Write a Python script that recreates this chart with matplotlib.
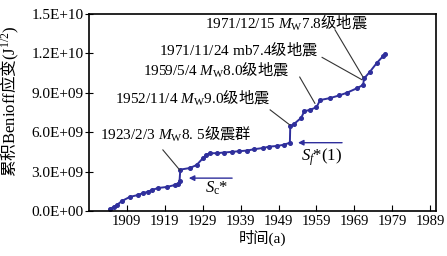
import numpy as np
import matplotlib
matplotlib.use('Agg')
import matplotlib.pyplot as plt

plt.rcParams['font.family'] = ['Liberation Serif', 'Noto Sans CJK SC']
plt.rcParams['mathtext.fontset'] = 'custom'
plt.rcParams['mathtext.rm'] = 'Liberation Serif'
plt.rcParams['mathtext.it'] = 'Liberation Serif:italic'
plt.rcParams['mathtext.sf'] = 'Noto Sans CJK SC'

# data (strain in units of 1e9 J^1/2)
years = [1904.5, 1905.5, 1906.4, 1907.7, 1909.8, 1912.0, 1913.3, 1914.5, 1915.6,
         1917.3, 1919.6, 1921.7, 1922.5, 1922.9, 1923.1, 1925.6, 1927.4, 1929.0,
         1930.0, 1931.0, 1932.8, 1934.5, 1936.7, 1938.5, 1940.7, 1942.5, 1945.0,
         1946.5, 1948.6, 1950.5, 1952.0, 1952.1, 1953.0, 1955.0, 1955.8, 1957.3,
         1959.0, 1960.0, 1962.6, 1965.0, 1967.0, 1969.7, 1971.3, 1971.6, 1973.1,
         1975.0, 1976.6, 1977.2]
strain = [0.15, 0.30, 0.46, 0.76, 1.07, 1.22, 1.37, 1.45, 1.60,
          1.75, 1.83, 1.98, 2.05, 2.30, 3.15, 3.27, 3.50, 4.00,
          4.30, 4.40, 4.40, 4.45, 4.50, 4.55, 4.60, 4.70, 4.80,
          4.90, 4.95, 5.05, 5.20, 6.45, 6.60, 7.10, 7.60, 7.70,
          7.90, 8.45, 8.60, 8.80, 9.00, 9.35, 9.60, 10.10, 10.60,
          11.30, 11.80, 11.95]

xticks = [1909, 1919, 1929, 1939, 1949, 1959, 1969, 1979, 1989]
yticks = [0, 3e9, 6e9, 9e9, 1.2e10, 1.5e10]
ytick_labels = ['0.0E+00', '3.0E+09', '6.0E+09', '9.0E+09', '1.2E+10', '1.5E+10']

# annotations: text, text anchor (year, 1e9), line start, line end
notes = [
    ('1971/12/15 $M_{\\rm W}$7.8$\\mathsf{级地震}$', (1929.6, 14.3), (1963.9, 13.8), (1971.3, 10.2)),
    ('1971/11/24 mb7.4$\\mathsf{级地震}$', (1917.5, 12.3), (1960.5, 11.7), (1971.0, 10.0)),
    ('1959/5/4 $M_{\\rm W}$8.0$\\mathsf{级地震}$', (1913.2, 10.7), (1954.6, 10.2), (1958.6, 8.2)),
    ('1952/11/4 $M_{\\rm W}$9.0$\\mathsf{级地震}$', (1905.9, 8.6), (1946.8, 7.7), (1952.0, 6.55)),
    ('1923/2/3 $M_{\\rm W}$8. 5$\\mathsf{级震群}$', (1901.9, 5.8), (1918.5, 4.65), (1923.0, 3.1)),
]

blue = '#2f2f9c'

fig = plt.figure(figsize=(4.47, 2.56), dpi=100)
ax = fig.add_axes([0.199, 0.176, 0.776, 0.769])

ax.plot(years, np.array(strain) * 1e9, color=blue, lw=1.4, marker='o', ms=2.6, mec=blue, mfc=blue)

for txt, tpos, l0, l1 in notes:
    ax.text(tpos[0], tpos[1] * 1e9, txt, fontsize=11, va='center', ha='left')
    ax.plot([l0[0], l1[0]], [l0[1] * 1e9, l1[1] * 1e9], color='#333333', lw=0.8)

# S_c* and S_f*(1) arrows
ax.annotate('', xy=(1924.6, 2.5e9), xytext=(1937.5, 2.5e9),
            arrowprops=dict(arrowstyle='-|>', color=blue, lw=1.0, mutation_scale=8))
ax.annotate('', xy=(1953.4, 5.2e9), xytext=(1966.5, 5.2e9),
            arrowprops=dict(arrowstyle='-|>', color=blue, lw=1.0, mutation_scale=8))
ax.text(1929.5, 1.7e9, '$S_{\\rm c}$*', fontsize=12, va='center')
ax.text(1955.0, 4.1e9, '$S_{f}$*(1)', fontsize=12, va='center')

ax.set_xlim(1899, 1990.5)
ax.set_ylim(0, 1.5e10)
ax.set_xticks(xticks)
ax.set_yticks(yticks)
ax.set_yticklabels(ytick_labels)
ax.tick_params(axis='x', direction='in', length=4, labelsize=10.5, pad=3)
ax.tick_params(axis='y', direction='inout', length=6, labelsize=11, pad=1)
for s in ax.spines.values():
    s.set_linewidth(1.2)

ax.set_xlabel('时间(a)', fontsize=11, labelpad=1)
ax.set_ylabel('$\\mathsf{累积}$Benioff$\\mathsf{应变}$(J$^{1/2}$)', fontsize=12)
ax.yaxis.set_label_coords(-0.195, 0.56)

fig.savefig('out.png', dpi=100)
